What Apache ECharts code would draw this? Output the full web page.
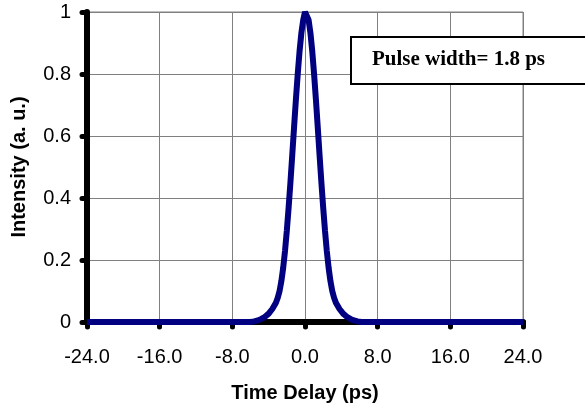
<!DOCTYPE html>
<html>
<head>
<meta charset="utf-8">
<script src="https://cdn.jsdelivr.net/npm/echarts@6/dist/echarts.min.js"></script>
<style>
  html, body { margin: 0; padding: 0; background: #fff; }
  #chart { width: 585px; height: 408px; }
</style>
</head>
<body>
<div id="chart"></div>
<script>
// time delay (ps) and normalised intensity
const timeDelay = [
  -24, -16, -8, -6.0, -5.6, -5.2, -4.8, -4.4, -4.0, -3.6, -3.2, -3.0, -2.8, -2.6, -2.4, -2.2,
  -2.0, -1.8, -1.6, -1.4, -1.2, -1.0, -0.8, -0.6, -0.4, -0.2, 0.0, 0.2, 0.4, 0.6, 0.8,
  1.0, 1.2, 1.4, 1.6, 1.8, 2.0, 2.2, 2.4, 2.6, 2.8, 3.0, 3.2, 3.4, 3.8, 4.2, 4.6, 5.0,
  5.4, 5.8, 6.2, 8, 16, 24
]
const intensity = [
  0, 0, 0, 0, 0.002, 0.005, 0.010, 0.017, 0.027, 0.042, 0.062, 0.078, 0.100, 0.132, 0.175, 0.229,
  0.295, 0.370, 0.452, 0.540, 0.630, 0.718, 0.800, 0.873, 0.932, 0.974, 1.0, 1.0, 0.974, 0.932, 0.873,
  0.800, 0.718, 0.630, 0.540, 0.452, 0.370, 0.295, 0.229, 0.175, 0.132, 0.100, 0.078, 0.062, 0.042, 0.027, 0.017, 0.010,
  0.005, 0.002, 0, 0, 0, 0
]
const xTickLabels = ['-24.0', '-16.0', '-8.0', '0.0', '8.0', '16.0', '24.0']
const yTickLabels = ['0', '0.2', '0.4', '0.6', '0.8', '1']
const noteText = 'Pulse width= 1.8 ps'

const chart = echarts.init(document.getElementById('chart'))

const axisCommon = {
    axisLine: { show: true, onZero: false, lineStyle: { color: '#000', width: 6 } },
    axisTick: { show: true, length: 5, lineStyle: { color: '#000', width: 5, cap: 'round' } },
    splitLine: { show: true, lineStyle: { color: '#808080', width: 1 } },
    nameLocation: 'middle',
    nameTextStyle: { fontFamily: 'Liberation Sans', fontSize: 20, fontWeight: 'bold', color: '#000' }
}

chart.setOption({
    animation: false,
    backgroundColor: '#fff',
    grid: {
        left: 87,
        right: 62,
        top: 12,
        bottom: 85,
        show: true,
        borderColor: '#808080',
        borderWidth: 1
    },
    xAxis: Object.assign({}, axisCommon, {
        type: 'value',
        min: -24,
        max: 24,
        interval: 8,
        name: 'Time Delay (ps)',
        nameGap: 61,
        axisLabel: {
            margin: 25,
            fontFamily: 'Liberation Sans',
            fontSize: 20,
            color: '#000',
            formatter: (v) => xTickLabels[Math.round((v + 24) / 8)]
        }
    }),
    yAxis: Object.assign({}, axisCommon, {
        type: 'value',
        min: 0,
        max: 1,
        interval: 0.2,
        name: 'Intensity (a. u.)',
        nameGap: 58,
        axisLabel: {
            margin: 16,
            fontFamily: 'Liberation Sans',
            fontSize: 20,
            color: '#000',
            formatter: (v) => yTickLabels[Math.round(v / 0.2)]
        }
    }),
    series: [
        {
            type: 'line',
            data: timeDelay.map((t, i) => [t, intensity[i]]),
            showSymbol: false,
            symbol: 'none',
            smooth: false,
            lineStyle: { color: '#000080', width: 6 },
            z: 3
        }
    ],
    graphic: [
        {
            type: 'rect',
            left: 350,
            top: 36,
            shape: { width: 250, height: 47 },
            style: { fill: '#fff', stroke: '#000', lineWidth: 2 },
            z: 10
        },
        {
            type: 'text',
            left: 372,
            top: 49,
            style: {
                text: noteText,
                fontFamily: 'Liberation Serif',
                fontSize: 21,
                fontWeight: 'bold',
                fill: '#000'
            },
            z: 11
        }
    ]
})
</script>
</body>
</html>
